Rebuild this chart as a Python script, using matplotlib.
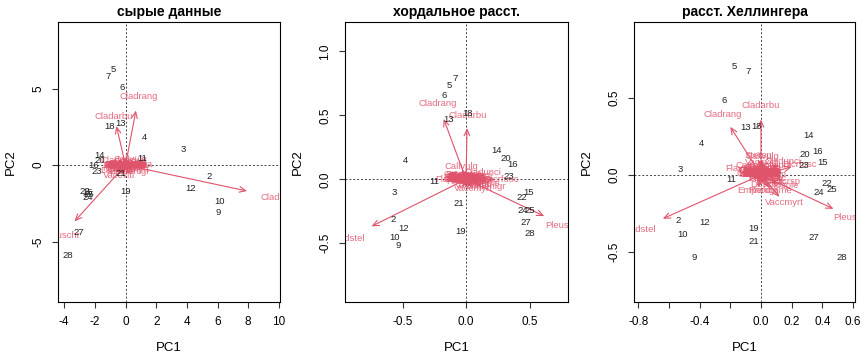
import matplotlib
matplotlib.use("Agg")
import matplotlib.pyplot as plt

plt.rcParams['font.family'] = ['Liberation Sans', 'DejaVu Sans']
plt.rcParams['axes.unicode_minus'] = False

ARROW_COL = '#DF536B'

# site (row) names, same order in every panel
sites = ['18', '15', '24', '27', '23', '19', '22', '16', '28', '13', '14', '20',
         '25', '7', '5', '6', '3', '4', '2', '9', '12', '10', '11', '21']

species = ['Callvulg', 'Empenigr', 'Rhodtome', 'Vaccmyrt', 'Vaccviti', 'Pinusylv',
           'Descflex', 'Betupube', 'Vacculig', 'Diphcomp', 'Dicrsp', 'Dicrfusc',
           'Dicrpoly', 'Hylosple', 'Pleuschr', 'Polypili', 'Polyjuni', 'Polycomm',
           'Pohlnuta', 'Ptilcili', 'Barbhatc', 'Cladarbu', 'Cladrang', 'Cladstel',
           'Cladunci', 'Cladcocc', 'Cladcorn', 'Cladgrac', 'Cladfimb', 'Cladcris',
           'Cladchlo', 'Cladbotr', 'Cladamau', 'Cladsp', 'Cetreric', 'Cetrisla',
           'Flavniva', 'Nepharct', 'Stersp', 'Peltapht', 'Icmaeric', 'Cladcerv',
           'Claddefo', 'Cladphyl']

# --- сырые данные ---
raw_site_x = [-1.02, -2.50, -2.45, -3.04, -1.87, -0.02, -2.62, -2.06, -3.75, -0.35, -1.71, -1.65,
              -2.38, -1.15, -0.78, -0.22, 3.75, 1.21, 5.44, 6.03, 4.21, 6.16, 1.06, -0.30]
raw_site_y = [2.54, -1.78, -2.11, -4.39, -0.41, -1.70, -1.72, 0.00, -5.89, 2.74, 0.63, 0.28,
              -1.90, 5.76, 6.26, 5.09, 1.04, 1.78, -0.72, -3.11, -1.52, -2.41, 0.43, -0.52]
raw_sp_x = [0.30, 0.25, 0.05, 0.30, -0.40, 0.02, 0.05, 0.00, 0.05, 0.02, -0.30, -0.50,
            0.00, -0.35, -4.15, 0.00, 0.05, 0.00, 0.02, 0.15, 0.10, -0.74, 0.85, 9.9,
            -0.40, 0.02, 0.10, 0.10, 0.05, 0.10, 0.05, 0.00, 0.00, 0.00, 0.30, 0.10,
            0.60, 0.05, 0.30, 0.00, 0.02, 0.00, 0.10, 0.02]
raw_sp_y = [0.35, -0.45, 0.00, -0.30, -0.70, 0.00, -0.10, 0.00, 0.00, 0.02, -0.30, -0.35,
            0.00, -0.20, -4.60, 0.00, -0.05, 0.00, 0.01, 0.00, 0.00, 3.18, 4.45, -2.12,
            0.30, 0.02, 0.10, 0.05, 0.05, 0.05, 0.00, 0.02, 0.01, 0.00, 0.20, 0.05,
            0.05, 0.00, 0.10, 0.00, 0.00, 0.00, 0.05, 0.00]

# --- хордальное расст. ---
chord_site_x = [0.008, 0.492, 0.445, 0.471, 0.339, -0.039, 0.437, 0.363, 0.500, -0.139, 0.242, 0.316,
                0.503, -0.089, -0.132, -0.174, -0.566, -0.474, -0.574, -0.532, -0.495, -0.561, -0.253, -0.053]
chord_site_y = [0.516, -0.104, -0.242, -0.341, 0.021, -0.409, -0.141, 0.112, -0.422, 0.464, 0.227, 0.159,
                -0.247, 0.784, 0.729, 0.656, -0.102, 0.148, -0.313, -0.518, -0.383, -0.458, -0.018, -0.193]
chord_sp_x = [-0.04, 0.15, 0.02, 0.06, 0.04, 0.02, 0.05, 0.00, -0.02, -0.01, 0.10, 0.28,
              0.02, 0.12, 0.77, 0.00, 0.08, 0.01, 0.01, 0.05, 0.03, 0.01, -0.22, -0.93,
              0.13, -0.01, 0.00, 0.00, 0.00, 0.00, 0.00, 0.00, -0.01, 0.00, -0.05, -0.02,
              -0.10, 0.01, -0.05, 0.00, -0.01, 0.00, 0.00, 0.00]
chord_sp_y = [0.10, -0.06, -0.02, -0.07, -0.05, 0.00, -0.01, 0.00, 0.01, 0.01, -0.02, 0.00,
              0.00, -0.03, -0.36, 0.00, 0.03, 0.00, 0.01, -0.02, -0.01, 0.50, 0.59, -0.46,
              0.05, 0.02, 0.03, 0.02, 0.02, 0.03, 0.01, 0.01, 0.00, 0.00, 0.04, 0.01,
              0.00, 0.00, 0.04, 0.00, 0.00, 0.00, 0.02, 0.00]

# --- расст. Хеллингера ---
hell_site_x = [-0.026, 0.403, 0.375, 0.343, 0.278, -0.050, 0.430, 0.367, 0.525, -0.104, 0.308, 0.284,
               0.460, -0.085, -0.176, -0.241, -0.525, -0.390, -0.538, -0.434, -0.369, -0.514, -0.197, -0.048]
hell_site_y = [0.317, 0.082, -0.117, -0.403, 0.059, -0.347, -0.056, 0.150, -0.534, 0.308, 0.258, 0.130,
               -0.093, 0.672, 0.701, 0.484, 0.033, 0.206, -0.293, -0.534, -0.310, -0.384, -0.028, -0.434]
hell_sp_x = [0.01, -0.02, 0.06, 0.15, 0.00, 0.03, 0.05, 0.00, -0.02, -0.01, 0.17, 0.25,
             0.02, 0.13, 0.59, 0.00, 0.09, 0.02, 0.01, 0.06, 0.04, 0.00, -0.25, -0.80,
             0.14, -0.02, 0.01, 0.00, 0.00, 0.01, 0.01, 0.01, -0.02, 0.00, -0.06, -0.05,
             -0.12, 0.01, -0.02, 0.00, -0.03, 0.00, 0.01, 0.00]
hell_sp_y = [0.12, -0.10, -0.10, -0.178, 0.08, -0.02, -0.06, 0.00, 0.02, 0.03, -0.04, 0.065,
             0.00, -0.07, -0.275, 0.01, 0.06, 0.00, 0.02, -0.04, -0.02, 0.45, 0.39, -0.355,
             0.085, 0.03, 0.05, 0.04, 0.03, 0.04, 0.01, 0.02, 0.01, 0.00, 0.06, 0.03,
             0.04, 0.00, 0.125, 0.01, 0.00, 0.00, 0.03, 0.00]

titles = ['сырые данные', 'хордальное расст.', 'расст. Хеллингера']


def draw_biplot(ax, sx, sy, px, py, title, xlim, ylim, xticks, xticklabels, yticks, yticklabels):
    ax.set_xlim(*xlim)
    ax.set_ylim(*ylim)
    ax.axhline(0, color='#444444', lw=0.7, ls=(0, (2, 2)), zorder=1)
    ax.axvline(0, color='#444444', lw=0.7, ls=(0, (2, 2)), zorder=1)
    for name, x, y in zip(sites, sx, sy):
        ax.text(x, y, name, fontsize=6.8, color='#222222', ha='center', va='center',
                clip_on=True, zorder=3)
    # arrows go to 0.8 of the loading, labels sit on the loading (as in R biplot)
    for name, x, y in zip(species, px, py):
        ax.annotate('', xy=(0.8 * x, 0.8 * y), xytext=(0, 0),
                    arrowprops=dict(arrowstyle='->,head_length=0.45,head_width=0.2',
                                    color=ARROW_COL, lw=0.8, shrinkA=0, shrinkB=0),
                    zorder=2)
        ax.text(x, y, name, fontsize=6.8, color=ARROW_COL, ha='center', va='center',
                clip_on=True, zorder=2, alpha=0.85)
    ax.set_title(title, fontsize=10, fontweight='bold', pad=4)
    ax.set_xticks(xticks)
    ax.set_xticklabels(xticklabels)
    ax.set_yticks(yticks)
    ax.set_yticklabels(yticklabels, rotation=90, va='center')
    ax.tick_params(direction='out', length=4, width=0.8, labelsize=8.5, pad=6,
                   colors='#333333', labelcolor='black')
    ax.set_xlabel('PC1', fontsize=9.5, labelpad=10)
    ax.set_ylabel('PC2', fontsize=9.5, labelpad=11)
    for s in ax.spines.values():
        s.set_linewidth(0.8)


fig = plt.figure(figsize=(8.64, 3.6), dpi=100)
ax1 = fig.add_axes([58 / 864, 58 / 360, 222 / 864, 280 / 360])
ax2 = fig.add_axes([345 / 864, 58 / 360, 223 / 864, 280 / 360])
ax3 = fig.add_axes([634 / 864, 58 / 360, 221 / 864, 280 / 360])

draw_biplot(ax1, raw_site_x, raw_site_y, raw_sp_x, raw_sp_y, titles[0],
            (-4.4, 10.07), (-8.95, 9.35),
            [-4, -2, 0, 2, 4, 6, 8, 10], ['-4', '-2', '0', '2', '4', '6', '8', '10'],
            [-5, 0, 5], ['-5', '0', '5'])
draw_biplot(ax2, chord_site_x, chord_site_y, chord_sp_x, chord_sp_y, titles[1],
            (-0.953, 0.803), (-0.959, 1.229),
            [-0.5, 0.0, 0.5], ['-0.5', '0.0', '0.5'],
            [-0.5, 0.0, 0.5, 1.0], ['-0.5', '0.0', '0.5', '1.0'])
draw_biplot(ax3, hell_site_x, hell_site_y, hell_sp_x, hell_sp_y, titles[2],
            (-0.828, 0.613), (-0.825, 0.993),
            [-0.8, -0.6, -0.4, -0.2, 0.0, 0.2, 0.4, 0.6],
            ['-0.8', '', '-0.4', '', '0.0', '0.2', '0.4', '0.6'],
            [-0.5, 0.0, 0.5], ['-0.5', '0.0', '0.5'])

fig.savefig('out.png', dpi=100)
